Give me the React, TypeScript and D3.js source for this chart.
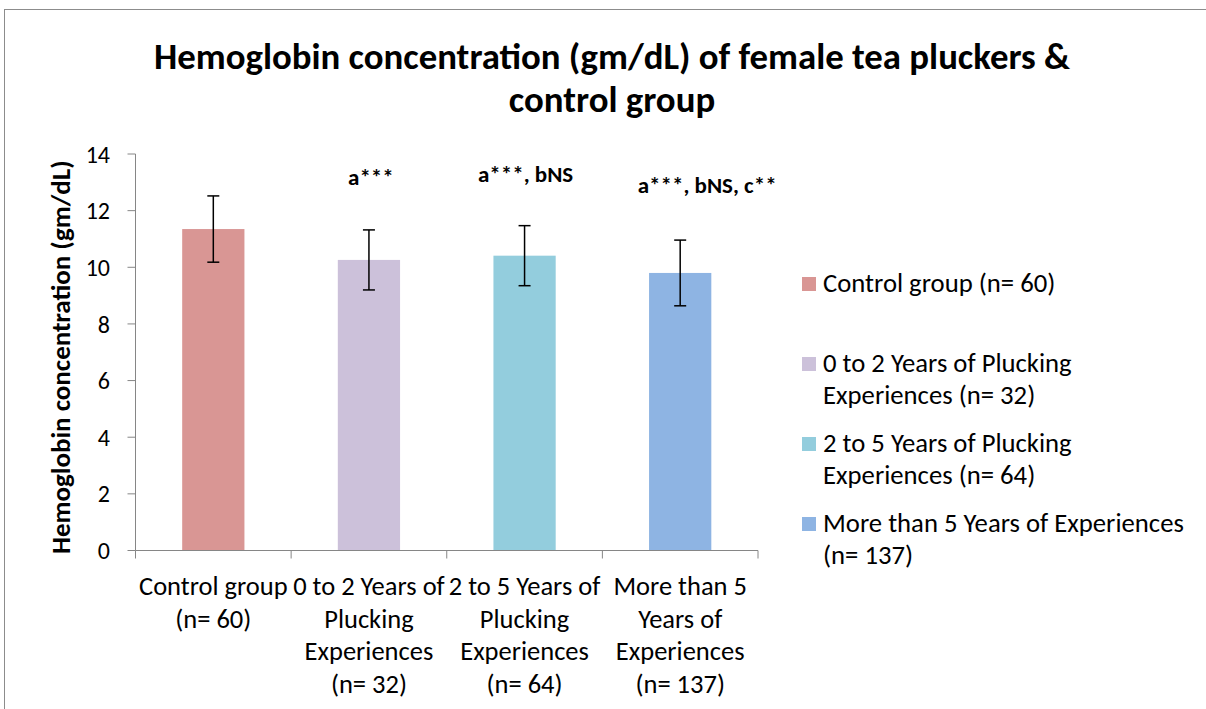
import React from 'react';
import * as d3 from 'd3';

const categories = [
  ['Control group', '(n= 60)'],
  ['0 to 2 Years of', 'Plucking', 'Experiences', '(n= 32)'],
  ['2 to 5 Years of', 'Plucking', 'Experiences', '(n= 64)'],
  ['More than 5', 'Years of', 'Experiences', '(n= 137)'],
];
const means = [11.35, 10.26, 10.41, 9.8];
const sds = [1.17, 1.06, 1.06, 1.16];
const notes = ['', 'a***', 'a***, bNS', 'a***, bNS, c**'];
const noteY = [0, 12.9, 13.01, 12.62];
const legendLabels = [
  ['Control group (n= 60)'],
  ['0 to 2 Years of Plucking', 'Experiences (n= 32)'],
  ['2 to 5 Years of Plucking', 'Experiences (n= 64)'],
  ['More than 5 Years of Experiences', '(n= 137)'],
];
const colors = ['#D99694', '#CCC1DA', '#93CDDD', '#8EB4E3'];
const yTicks = [0, 2, 4, 6, 8, 10, 12, 14];

const W = 1206;
const H = 709;
const font = 'Carlito, Lato, "Open Sans", sans-serif';
// label offsets from bar centre, as Excel placed them
const noteDx = [0, 2, 1, 27];

const App = () => {
  const left = 135.5;
  const right = 758;
  const top = 154;
  const bottom = 550.5;
  const y = d3.scaleLinear().domain([0, 14]).range([bottom, top]);
  const x = d3.scaleBand().domain(d3.range(categories.length).map(String)).range([left, right]).paddingInner(0).paddingOuter(0);
  const bw = x.bandwidth() * 0.4;
  const axisColor = '#868686';

  return (
    <svg width={W} height={H} style={{ display: 'block', position: 'absolute', left: 0, top: 0 }} fontFamily={font}>
      <rect x={4.5} y={9.5} width={W} height={H} fill="#fff" stroke="#8c8c8c" strokeWidth={1} />
      <text x={612} y={69} textAnchor="middle" fontSize={36.8} fontWeight="bold" fill="#000">
        Hemoglobin concentration (gm/dL) of female tea pluckers &amp;
      </text>
      <text x={612} y={112} textAnchor="middle" fontSize={36.8} fontWeight="bold" fill="#000">
        control group
      </text>
      {/* y axis */}
      <line x1={left} x2={left} y1={top} y2={bottom} stroke={axisColor} />
      {yTicks.map(t => (
        <g key={t}>
          <line x1={left - 8} x2={left} y1={y(t)} y2={y(t)} stroke={axisColor} />
          <text x={110} y={y(t)} dy="0.36em" textAnchor="end" fontSize={24} fill="#000">{t}</text>
        </g>
      ))}
      <text transform={`translate(70,${(top + bottom) / 2 + 5}) rotate(-90)`} textAnchor="middle" fontSize={27} fontWeight="bold" fill="#000">
        Hemoglobin concentration (gm/dL)
      </text>
      {/* bars */}
      {means.map((m, i) => {
        const cx = (x(String(i)) as number) + x.bandwidth() / 2;
        return (
          <g key={i}>
            <rect x={cx - bw / 2} y={y(m)} width={bw} height={bottom - y(m)} fill={colors[i]} />
            <line x1={cx} x2={cx} y1={y(m + sds[i])} y2={y(m - sds[i])} stroke="#000" strokeWidth={1.5} />
            <line x1={cx - 6} x2={cx + 6} y1={y(m + sds[i])} y2={y(m + sds[i])} stroke="#000" strokeWidth={1.5} />
            <line x1={cx - 6} x2={cx + 6} y1={y(m - sds[i])} y2={y(m - sds[i])} stroke="#000" strokeWidth={1.5} />
            {notes[i] && (
              <text x={cx + noteDx[i]} y={y(noteY[i])} textAnchor="middle" fontSize={23} fontWeight="bold" fill="#000">{notes[i]}</text>
            )}
          </g>
        );
      })}
      {/* x axis */}
      <line x1={left} x2={right} y1={bottom} y2={bottom} stroke={axisColor} />
      {d3.range(categories.length + 1).map(i => {
        const tx = left + i * x.bandwidth();
        return <line key={i} x1={tx} x2={tx} y1={bottom} y2={bottom + 8} stroke={axisColor} />;
      })}
      {categories.map((lines, i) => {
        const cx = (x(String(i)) as number) + x.bandwidth() / 2;
        return (
          <text key={i} x={cx} textAnchor="middle" fontSize={26.5} fill="#000">
            {lines.map((l, j) => (
              <tspan key={j} x={cx} y={595 + j * 32.5}>{l}</tspan>
            ))}
          </text>
        );
      })}
      {/* legend */}
      {legendLabels.map((lines, i) => {
        const ly = 284 + i * 80;
        return (
          <g key={i}>
            <rect x={802} y={ly - 7} width={14} height={14} fill={colors[i]} />
            <text fontSize={26.7} fill="#000">
              {lines.map((l, j) => (
                <tspan key={j} x={823} y={ly + 8 + j * 31.5}>{l}</tspan>
              ))}
            </text>
          </g>
        );
      })}
    </svg>
  );
};

export default App;
